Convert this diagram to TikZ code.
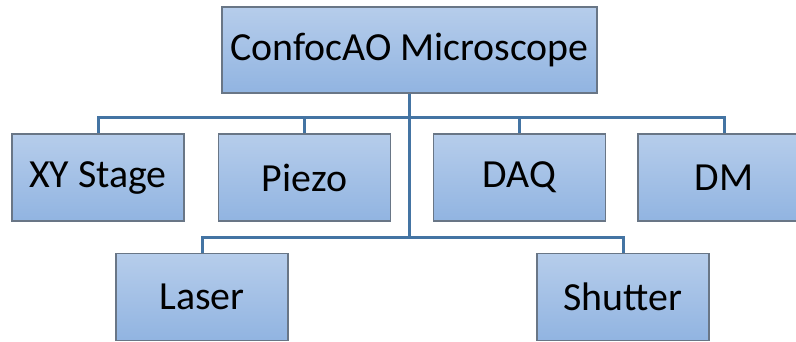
\documentclass[tikz,border=0pt]{standalone}
\usepackage{fontspec}
\setmainfont{Carlito}
\begin{document}
\begin{tikzpicture}[x=1bp,y=1bp,
  box/.style={draw=boxedge, line width=1.3bp, top color=boxtop, bottom color=boxbottom,
    minimum width=172bp, minimum height=87bp, inner sep=0pt,
    font=\fontsize{40}{46}\selectfont},
  conn/.style={draw=connblue, line width=3bp}]
\definecolor{boxtop}{RGB}{182,205,235}
\definecolor{boxbottom}{RGB}{145,180,225}
\definecolor{boxedge}{RGB}{105,118,134}
\definecolor{connblue}{RGB}{68,116,163}
\useasboundingbox (0,0) rectangle (796,341);
\clip (0,0) rectangle (796,341);

% root
\node[box, minimum width=375bp, minimum height=86bp] (root) at (409.5,291) {ConfocAO Microscope};

% second row
\node[box] (xy)    at (98,163.5)  {XY Stage};
\node[box] (piezo) at (304.5,163.5) {Piezo};
\node[box] (daq)   at (519.5,163.5) {DAQ};
\node[box] (dm)    at (724,163.5) {DM};

% third row
\node[box] (laser)   at (202,44) {Laser};
\node[box] (shutter) at (623,44) {Shutter};

% bus junctions
\coordinate (busA) at (409,224);
\coordinate (busB) at (409,104);

% connectors
\draw[conn] (root.south -| busA) -- (busB);
\draw[conn] (xy.north) |- (busA) -| (dm.north);
\draw[conn] (piezo.north) -- (piezo.north |- busA);
\draw[conn] (daq.north) -- (daq.north |- busA);
\draw[conn] (laser.north) |- (busB) -| (shutter.north);
\end{tikzpicture}
\end{document}
